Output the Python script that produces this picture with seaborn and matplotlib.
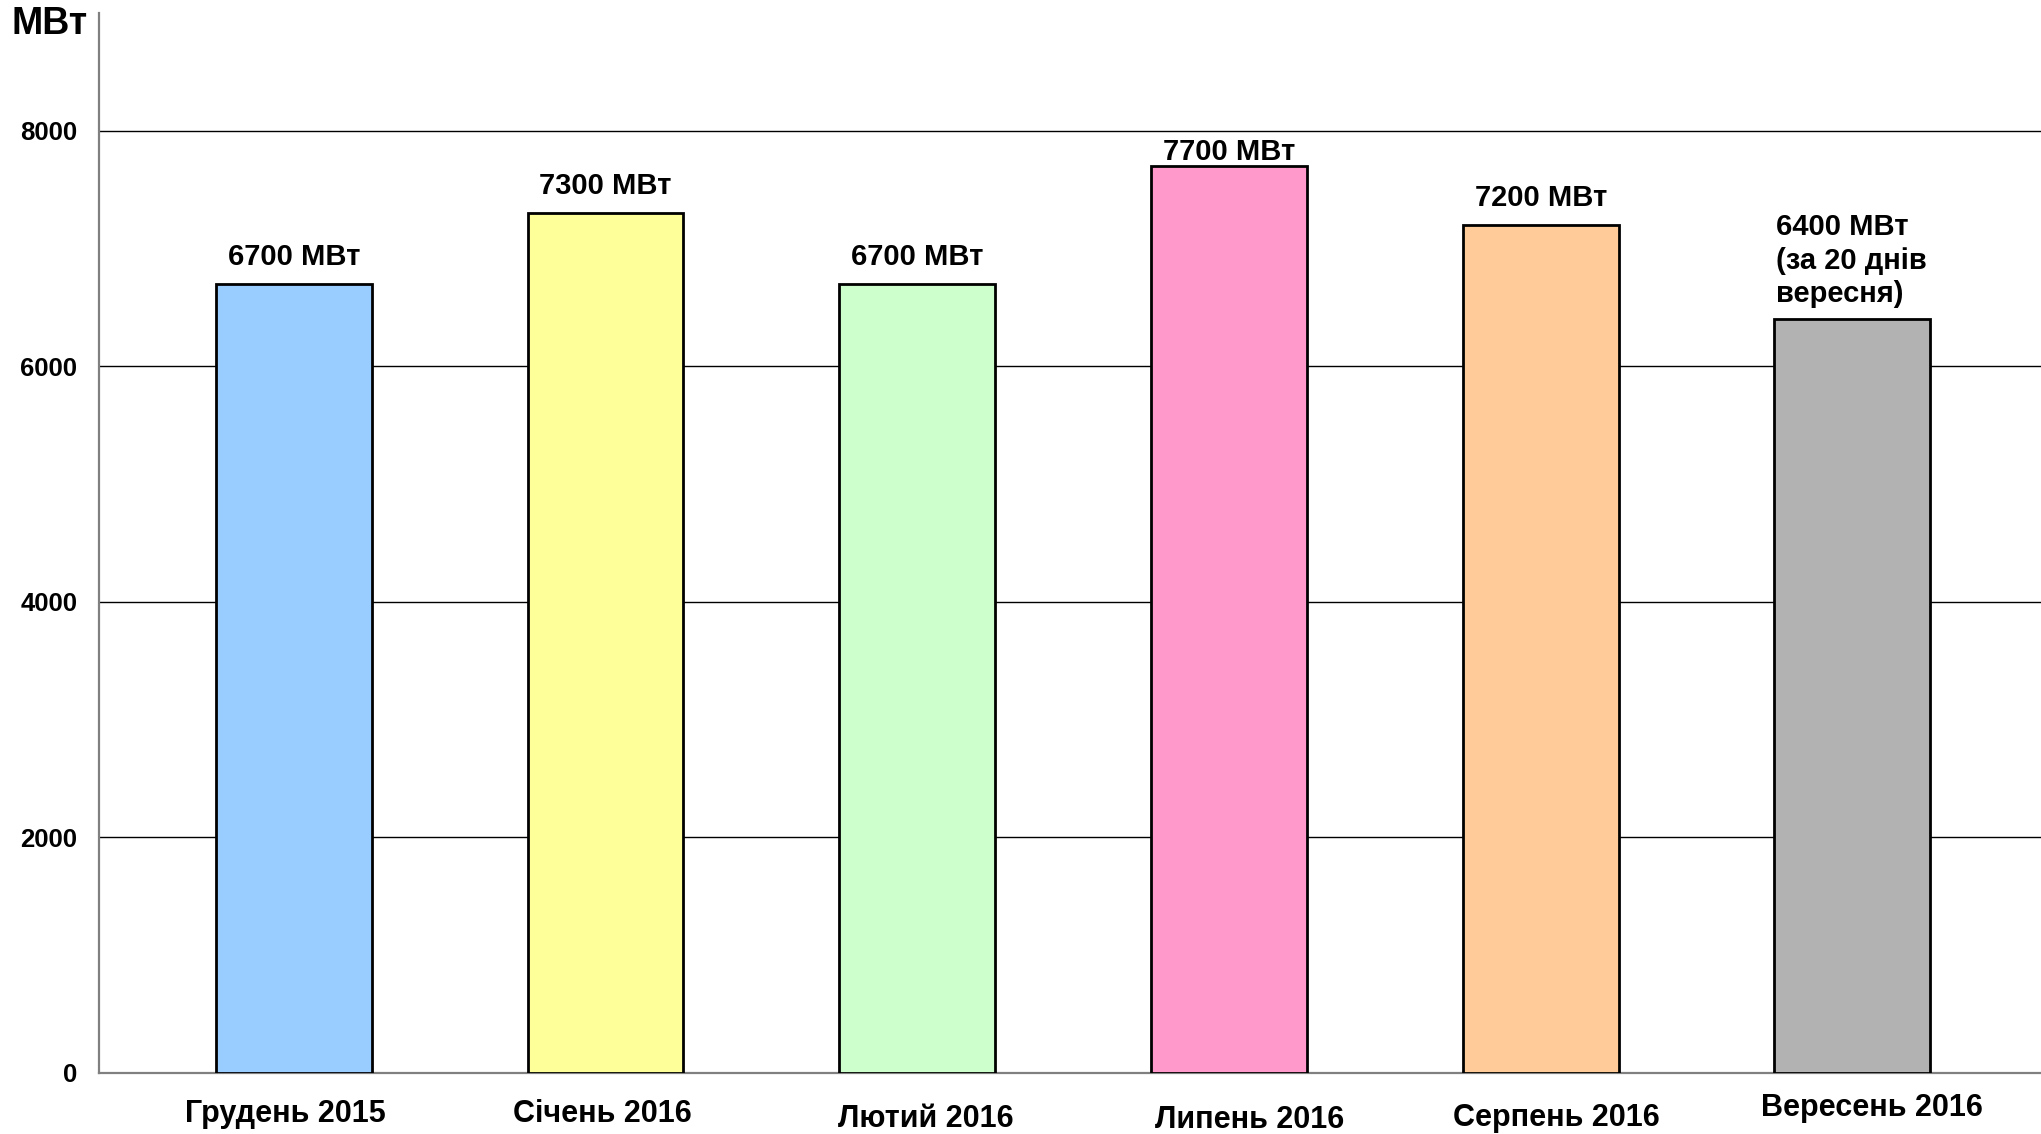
import matplotlib
matplotlib.use("Agg")
import matplotlib.pyplot as plt
import matplotlib.transforms as mtransforms
import seaborn as sns
import pandas as pd

# ---- data ----
months = ["Грудень 2015", "Січень 2016", "Лютий 2016", "Липень 2016", "Серпень 2016", "Вересень 2016"]
power_mw = [6700, 7300, 6700, 7700, 7200, 6400]
bar_labels = ["6700 МВт", "7300 МВт", "6700 МВт", "7700 МВт", "7200 МВт", "6400 МВт\n(за 20 днів\nвересня)"]
bar_colors = ["#99CCFF", "#FFFF99", "#CCFFCC", "#FF99CC", "#FFCC99", "#B2B2B2"]
y_ticks = [0, 2000, 4000, 6000, 8000]
unit_label = "МВт"

df = pd.DataFrame({"month": months, "power": power_mw})

sns.set_theme(style="white")
plt.rcParams["font.family"] = ["Liberation Sans", "DejaVu Sans"]
plt.rcParams["font.weight"] = "bold"

W, H = 2041, 1134
fig = plt.figure(figsize=(W / 100, H / 100), dpi=100)
ax = fig.add_axes([99 / W, 61 / H, 1942 / W, 1060 / H])

sns.barplot(data=df, x="month", y="power", hue="month", palette=bar_colors,
            order=months, hue_order=months, width=0.5, edgecolor="black",
            linewidth=2.0, saturation=1, legend=False, ax=ax, zorder=3)

ax.set_ylim(0, 9000)
ax.set_xlim(-0.625, 5.605)
ax.set_yticks(y_ticks)
ax.set_yticklabels([str(t) for t in y_ticks], fontsize=18.5, fontweight="bold")
ax.yaxis.grid(True, color="black", linewidth=1.0, zorder=0)
ax.set_axisbelow(True)
ax.set_xlabel("")
ax.set_ylabel("")

for s in ["top", "right"]:
    ax.spines[s].set_visible(False)
for s in ["left", "bottom"]:
    ax.spines[s].set_color("#808080")
    ax.spines[s].set_linewidth(1.6)

ax.tick_params(axis="y", direction="out", length=6.5, width=1.2, color="black", pad=9, labelcolor="black")
ax.tick_params(axis="x", which="major", length=0, pad=19)
ax.set_xticks(range(len(months)))
ax.set_xticklabels(months, fontsize=22, fontweight="bold", color="black")

# small tick at the axis crossing (extends left axis below zero)
ax.set_xticks([-0.625], minor=True)
ax.tick_params(axis="x", which="minor", direction="out", length=8.6, width=1.6, color="#808080")

# slight label offsets as in the original
dx_px = [-8, -3, 9, 21, 16, 20]
dy_px = [0, 0, -5, -6, -4, 6]
for lab, dx, dy in zip(ax.get_xticklabels(), dx_px, dy_px):
    off = mtransforms.ScaledTranslation(dx / 100, dy / 100, fig.dpi_scale_trans)
    lab.set_transform(lab.get_transform() + off)

# value annotations
ann_dy_pt = [13.5, 13.5, 13.5, 4.5, 13.5, 8]
for i, (v, txt, dy) in enumerate(zip(power_mw, bar_labels, ann_dy_pt)):
    if "\n" in txt:
        ax.annotate(txt, xy=(i - 0.25, v), xytext=(1, dy), textcoords="offset points",
                    ha="left", va="bottom", fontsize=21, fontweight="bold",
                    linespacing=1.25, color="black")
    else:
        ax.annotate(txt, xy=(i, v), xytext=(0, dy), textcoords="offset points",
                    ha="center", va="baseline", fontsize=21, fontweight="bold", color="black")

fig.text(12 / W, 1 - 24 / H, unit_label, ha="left", va="center", fontsize=27, fontweight="bold", color="black")

fig.savefig("out.png", dpi=100, facecolor="white")
